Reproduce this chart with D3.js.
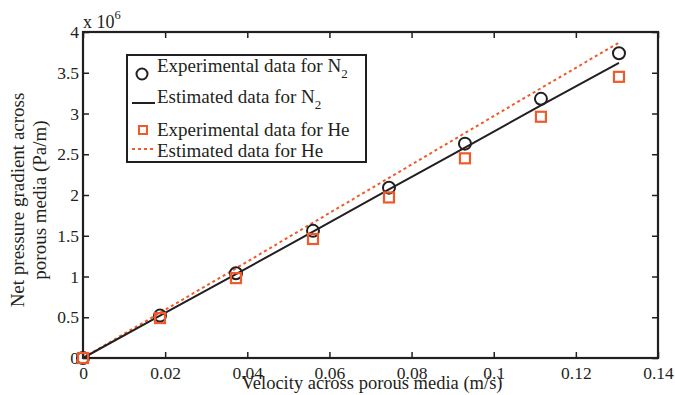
<!DOCTYPE html>
<html><head><meta charset="utf-8">
<script src="https://cdn.jsdelivr.net/npm/d3@7"></script>
<style>body{margin:0;background:#fff}svg{display:block}text{font-family:"Liberation Serif","Times New Roman",serif;fill:#231f20}</style>
</head><body>
<svg id="c" width="675" height="395"></svg>
<script>
const velocity = [0, 0.01875, 0.03725, 0.0560, 0.0745, 0.0930, 0.1115, 0.1305];
const n2Exp = [0, 0.52, 1.04, 1.56, 2.09, 2.63, 3.18, 3.74];
const heExp = [0, 0.49, 0.98, 1.46, 1.97, 2.45, 2.96, 3.45];
const n2Est = [0, 0.52, 1.03, 1.55, 2.07, 2.58, 3.10, 3.62];
const heEst = [0, 0.555, 1.10, 1.66, 2.21, 2.76, 3.31, 3.87];
const xTicks = [0, 0.02, 0.04, 0.06, 0.08, 0.1, 0.12, 0.14];
const yTicks = [0, 0.5, 1, 1.5, 2, 2.5, 3, 3.5, 4];
const ORANGE = "#ef5a2a", INK = "#231f20";

const svg = d3.select("#c");
const L = 83, R = 658, T = 32, B = 358;
const x = d3.scaleLinear().domain([0, 0.14]).range([L, R]);
const y = d3.scaleLinear().domain([0, 4]).range([B, T]);
const fmt = d => String(d);

// axes with inward ticks
const tl = 6, TF = 17.5;
svg.append("g").attr("transform", `translate(0,${B})`)
  .call(d3.axisBottom(x).tickValues(xTicks).tickFormat(fmt).tickSizeInner(-tl).tickSizeOuter(0).tickPadding(9))
  .call(g => { g.select(".domain").remove(); g.selectAll("text").attr("font-size", TF).attr("dy", "0.71em"); g.selectAll("line").attr("stroke", INK).attr("stroke-width", 1.5); });
svg.append("g").attr("transform", `translate(0,${T})`)
  .call(d3.axisTop(x).tickValues(xTicks).tickFormat("").tickSizeInner(-tl).tickSizeOuter(0))
  .call(g => { g.select(".domain").remove(); g.selectAll("line").attr("stroke", INK).attr("stroke-width", 1.5); });
svg.append("g").attr("transform", `translate(${L},0)`)
  .call(d3.axisLeft(y).tickValues(yTicks).tickFormat(fmt).tickSizeInner(-tl).tickSizeOuter(0).tickPadding(4))
  .call(g => { g.select(".domain").remove(); g.selectAll("text").attr("font-size", TF); g.selectAll("line").attr("stroke", INK).attr("stroke-width", 1.5); });
svg.append("g").attr("transform", `translate(${R},0)`)
  .call(d3.axisRight(y).tickValues(yTicks).tickFormat("").tickSizeInner(-tl).tickSizeOuter(0))
  .call(g => { g.select(".domain").remove(); g.selectAll("line").attr("stroke", INK).attr("stroke-width", 1.5); });
svg.selectAll(".tick text").attr("fill", INK);

svg.append("rect").attr("x", L).attr("y", T).attr("width", R - L).attr("height", B - T)
  .attr("fill", "none").attr("stroke", INK).attr("stroke-width", 2.2);

// lines
const idx = d3.range(velocity.length);
const line = arr => d3.line().x(i => x(velocity[i])).y(i => y(arr[i]))(idx);
svg.append("path").attr("d", line(heEst)).attr("fill", "none").attr("stroke", ORANGE)
  .attr("stroke-width", 2).attr("stroke-dasharray", "3,3");
svg.append("path").attr("d", line(n2Est)).attr("fill", "none").attr("stroke", INK).attr("stroke-width", 2);

// markers
svg.append("g").selectAll("circle").data(idx).join("circle")
  .attr("cx", i => x(velocity[i])).attr("cy", i => y(n2Exp[i])).attr("r", 6)
  .attr("fill", "none").attr("stroke", INK).attr("stroke-width", 2);
const s = 10;
svg.append("g").selectAll("rect").data(idx).join("rect")
  .attr("x", i => x(velocity[i]) - s / 2).attr("y", i => y(heExp[i]) - s / 2)
  .attr("width", s).attr("height", s)
  .attr("fill", "none").attr("stroke", ORANGE).attr("stroke-width", 2.2);

// exponent label
const ex = svg.append("text").attr("x", L).attr("y", 28).attr("font-size", 18);
ex.append("tspan").text("x 10");
ex.append("tspan").attr("dy", -9).attr("font-size", 12.5).text("6");

// axis labels
svg.append("text").attr("x", 372).attr("y", 389).attr("text-anchor", "middle").attr("font-size", 18.5)
  .text("Velocity across porous media (m/s)");
const yl = svg.append("g").attr("transform", "translate(24,200) rotate(-90)");
yl.append("text").attr("text-anchor", "middle").attr("y", 0).attr("font-size", 19).text("Net pressure gradient across");
yl.append("text").attr("text-anchor", "middle").attr("y", 22).attr("font-size", 19).text("porous media (Pa/m)");

// legend
const LF = 19;
const lg = svg.append("g");
lg.append("rect").attr("x", 127).attr("y", 55).attr("width", 239).attr("height", 107)
  .attr("fill", "#fff").attr("stroke", INK).attr("stroke-width", 2);
const tx = 157;
lg.append("circle").attr("cx", 142).attr("cy", 74).attr("r", 5.5).attr("fill", "none").attr("stroke", INK).attr("stroke-width", 2);
const t1 = lg.append("text").attr("x", tx).attr("y", 72).attr("font-size", LF);
t1.append("tspan").text("Experimental data for N");
t1.append("tspan").attr("dy", 6).attr("font-size", 13).text("2");
lg.append("line").attr("x1", 132).attr("x2", 155).attr("y1", 103).attr("y2", 103).attr("stroke", INK).attr("stroke-width", 2);
const t2 = lg.append("text").attr("x", tx).attr("y", 103).attr("font-size", LF);
t2.append("tspan").text("Estimated data for N");
t2.append("tspan").attr("dy", 6).attr("font-size", 13).text("2");
lg.append("rect").attr("x", 139).attr("y", 126).attr("width", 8).attr("height", 8).attr("fill", "none").attr("stroke", ORANGE).attr("stroke-width", 2);
lg.append("text").attr("x", tx).attr("y", 136).attr("font-size", LF).text("Experimental data for He");
lg.append("line").attr("x1", 132).attr("x2", 155).attr("y1", 149).attr("y2", 149).attr("stroke", ORANGE).attr("stroke-width", 2).attr("stroke-dasharray", "3,3");
lg.append("text").attr("x", tx).attr("y", 157).attr("font-size", LF).text("Estimated data for He");
</script>
</body></html>
